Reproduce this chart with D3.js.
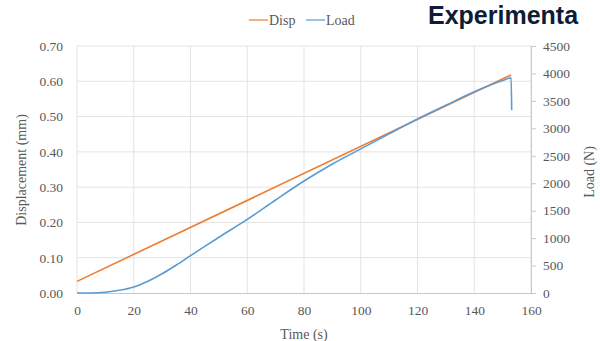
<!DOCTYPE html>
<html><head><meta charset="utf-8">
<script src="https://cdn.jsdelivr.net/npm/d3@7"></script>
<style>body{margin:0;background:#fff;overflow:hidden}svg{display:block}</style>
</head><body>
<script>
const dispTime = [0, 153];
const dispValues = [0.033, 0.618];
const loadTime = [0, 5, 10, 15, 20, 25, 30, 35, 40, 45, 50, 60, 70, 80, 90, 100, 110, 120, 130, 140, 150, 153, 153.2];
const loadValues = [0, 0, 15, 50, 110, 215, 350, 510, 680, 850, 1015, 1340, 1695, 2040, 2350, 2625, 2900, 3170, 3420, 3665, 3870, 3920, 3330];
const xTicks = [0, 20, 40, 60, 80, 100, 120, 140, 160];
const leftTicks = [0, 0.1, 0.2, 0.3, 0.4, 0.5, 0.6, 0.7];
const rightTicks = [0, 500, 1000, 1500, 2000, 2500, 3000, 3500, 4000, 4500];
const seriesNames = ["Disp", "Load"];
const colors = ["#ED7D31", "#5B9BD5"];

const W = 600, H = 341;
const svg = d3.select("body").append("svg").attr("width", W).attr("height", H);
const serif = "'Liberation Serif','Times New Roman',serif";

const x = d3.scaleLinear().domain([0, 160]).range([77, 531]);
const yL = d3.scaleLinear().domain([0, 0.7]).range([293, 46]);
const yR = d3.scaleLinear().domain([0, 4500]).range([293, 46]);

// gridlines
svg.append("g").selectAll("line").data(leftTicks.slice(1)).join("line")
  .attr("x1", x(0)).attr("x2", x(160)).attr("y1", d => yL(d)).attr("y2", d => yL(d))
  .attr("stroke", "#e3e3e3").attr("stroke-width", 1);
svg.append("g").selectAll("line").data(xTicks).join("line")
  .attr("x1", d => x(d)).attr("x2", d => x(d)).attr("y1", yL(0)).attr("y2", yL(0.7))
  .attr("stroke", "#e3e3e3").attr("stroke-width", 1);

// bottom axis
const xAxis = svg.append("g").attr("transform", `translate(0,${yL(0)})`)
  .call(d3.axisBottom(x).tickValues(xTicks).tickSize(0).tickPadding(12).tickFormat(d3.format("d")));
xAxis.select(".domain").attr("stroke", "#c8c8c8");
xAxis.selectAll("text").attr("font-family", serif).attr("font-size", 13.5).attr("fill", "#595959");

// left axis
const lAxis = svg.append("g").attr("transform", `translate(${x(0)},0)`)
  .call(d3.axisLeft(yL).tickValues(leftTicks).tickSize(0).tickPadding(14).tickFormat(d3.format(".2f")));
lAxis.select(".domain").remove();
lAxis.selectAll("text").attr("font-family", serif).attr("font-size", 13.5).attr("fill", "#595959");

// right axis
const rAxis = svg.append("g").attr("transform", `translate(${x(160)},0)`)
  .call(d3.axisRight(yR).tickValues(rightTicks).tickSize(5).tickSizeOuter(0).tickPadding(7).tickFormat(d3.format("d")));
rAxis.select(".domain").attr("stroke", "#c8c8c8");
rAxis.selectAll(".tick line").attr("stroke", "#c8c8c8");
rAxis.selectAll("text").attr("font-family", serif).attr("font-size", 13.5).attr("fill", "#595959");

// lines
const dispLine = d3.line().x((d, i) => x(dispTime[i])).y(d => yL(d));
const loadLine = d3.line().x((d, i) => x(loadTime[i])).y(d => yR(d)).curve(d3.curveMonotoneX);
svg.append("path").attr("d", dispLine(dispValues)).attr("fill", "none")
  .attr("stroke", colors[0]).attr("stroke-width", 1.6);
svg.append("path").attr("d", loadLine(loadValues)).attr("fill", "none")
  .attr("stroke", colors[1]).attr("stroke-width", 1.6);

// axis titles
svg.append("text").attr("transform", `translate(26,170) rotate(-90)`).attr("text-anchor", "middle")
  .attr("font-family", serif).attr("font-size", 14).attr("fill", "#595959").text("Displacement (mm)");
svg.append("text").attr("transform", `translate(594,172) rotate(-90)`).attr("text-anchor", "middle")
  .attr("font-family", serif).attr("font-size", 14).attr("fill", "#595959").text("Load (N)");
svg.append("text").attr("x", 304).attr("y", 339).attr("text-anchor", "middle")
  .attr("font-family", serif).attr("font-size", 14).attr("fill", "#595959").text("Time (s)");

// legend
const leg = svg.append("g");
const legX = [249, 306];
seriesNames.forEach((n, i) => {
  leg.append("line").attr("x1", legX[i]).attr("x2", legX[i] + 19).attr("y1", 20).attr("y2", 20)
    .attr("stroke", colors[i]).attr("stroke-width", 2).attr("opacity", 0.6);
  leg.append("text").attr("x", legX[i] + 20).attr("y", 24.5).attr("font-family", serif)
    .attr("font-size", 14).attr("fill", "#595959").text(n);
});

// title (visible part only, as in the reference)
svg.append("text").attr("x", 428).attr("y", 24).attr("font-family", "'Liberation Sans',Arial,sans-serif")
  .attr("font-weight", "bold").attr("font-size", 25).attr("fill", "#0e1d36").text("Experimenta");
</script>
</body></html>
